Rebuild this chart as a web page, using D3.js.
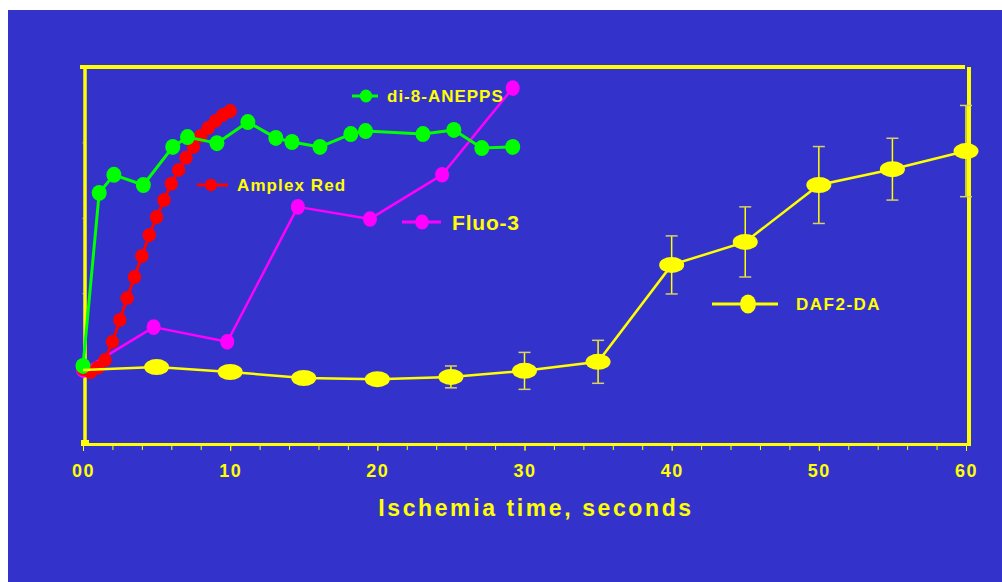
<!DOCTYPE html>
<html>
<head>
<meta charset="utf-8">
<script src="https://cdn.jsdelivr.net/npm/d3@7"></script>
<style>
  html, body { margin: 0; padding: 0; background: #ffffff; }
  svg { display: block; }
  text { font-family: "Liberation Sans", Arial, Helvetica, sans-serif; font-weight: bold; fill: #ffff00; }
</style>
</head>
<body>
<svg id="chart" width="1002" height="582"></svg>
<script>
// ---------------- DATA ----------------
const xTickValues = [0, 10, 20, 30, 40, 50, 60];
const xTickLabels = ["00", "10", "20", "30", "40", "50", "60"];
const xMinorTicks = [0, 2, 4, 6, 8, 10, 12, 14, 16, 18, 20, 22, 24, 26, 28, 30, 32, 34, 36, 38, 40, 42, 44, 46, 48, 50, 52, 54, 56, 58, 60];
const yTickValues = [20, 40, 60, 80];
const xTitle = "Ischemia time, seconds";

// di-8-ANEPPS (green)
const anepTime  = [0, 1.1, 2.1, 4.1, 6.1, 7.1, 9.1, 11.2, 13.1, 14.2, 16.1, 18.2, 19.2, 23.1, 25.2, 27.1, 29.2];
const anepValue = [20.7, 66.6, 71.4, 68.7, 78.8, 81.4, 79.8, 85.4, 81.2, 80.1, 78.8, 82.2, 83.0, 82.2, 83.3, 78.5, 78.8];

// Amplex Red (red)
const ampTime  = [0, 0.5, 1, 1.5, 2, 2.5, 3, 3.5, 4, 4.5, 5, 5.5, 6, 6.5, 7, 7.5, 8, 8.5, 9, 9.5, 10];
const ampValue = [19.9, 19.1, 20.2, 22.3, 27.1, 32.9, 38.7, 44.3, 49.9, 55.4, 60.2, 64.7, 69.0, 72.7, 75.9, 78.8, 81.7, 83.8, 85.7, 87.3, 88.3];

// Fluo-3 (magenta)
const fluoTime  = [0, 4.8, 9.8, 14.6, 19.5, 24.4, 29.2];
const fluoValue = [19.6, 31.0, 27.1, 62.9, 59.7, 71.4, 94.4];

// DAF2-DA (yellow) with error bars
const dafTime  = [0, 5, 10, 15, 20, 25, 30, 35, 40, 45, 50, 55, 60];
const dafValue = [19.6, 20.4, 19.1, 17.5, 17.2, 17.8, 19.4, 21.8, 47.5, 53.6, 68.7, 72.9, 77.7];
const dafError = [1.5, 1.5, 1.5, 1.5, 1.5, 2.9, 4.9, 5.7, 7.7, 9.3, 10.2, 8.2, 12.1];

const seriesNames = ["di-8-ANEPPS", "Amplex Red", "Fluo-3", "DAF2-DA"];

// ---------------- CHART ----------------
const svg = d3.select("#chart");
const W = 1002, H = 582;

// background panel
svg.append("rect").attr("x", 8).attr("y", 10).attr("width", W - 8).attr("height", H - 10).attr("fill", "#3333cc");

const x = d3.scaleLinear().domain([0, 60]).range([83, 966]);
const y = d3.scaleLinear().domain([0, 100]).range([444, 67]);

const YEL = "#ffff00", GRN = "#00ff00", RED = "#ff0000", MAG = "#ff00ff";

// frame
const frame = svg.append("g");
frame.append("line").attr("x1", x(0) - 3).attr("x2", x(60) - 1).attr("y1", y(100)).attr("y2", y(100))
  .attr("stroke", YEL).attr("stroke-width", 4);
frame.append("line").attr("x1", x(0) + 2).attr("x2", x(0) + 2).attr("y1", y(100)).attr("y2", y(0) + 1)
  .attr("stroke", YEL).attr("stroke-width", 3.5);
frame.append("line").attr("x1", x(60) + 3).attr("x2", x(60) + 3).attr("y1", y(100)).attr("y2", y(0) + 2)
  .attr("stroke", YEL).attr("stroke-width", 4);
frame.append("line").attr("x1", x(0) - 1).attr("x2", x(60) + 5).attr("y1", y(0) + 0.5).attr("y2", y(0) + 0.5)
  .attr("stroke", YEL).attr("stroke-width", 3);
frame.append("rect").attr("x", x(0) - 2).attr("y", y(0) - 4).attr("width", 8).attr("height", 6).attr("fill", YEL);

// minor x ticks
const minorAxis = d3.axisBottom(x).tickValues(xMinorTicks).tickSize(4).tickFormat("");
const gMinor = svg.append("g").attr("transform", `translate(0,${y(0) + 2})`).call(minorAxis);
gMinor.select(".domain").remove();
gMinor.selectAll(".tick line").attr("stroke", YEL).attr("stroke-width", 1);

// major x ticks + labels
const majorAxis = d3.axisBottom(x).tickValues(xTickValues).tickSize(5).tickPadding(13)
  .tickFormat((d, i) => xTickLabels[i]);
const gMajor = svg.append("g").attr("transform", `translate(0,${y(0) + 2})`).call(majorAxis);
gMajor.select(".domain").remove();
gMajor.selectAll(".tick line").attr("stroke", YEL).attr("stroke-width", 1);
gMajor.selectAll(".tick text")
  .attr("fill", YEL).attr("font-size", 18).attr("font-weight", "bold")
  .attr("font-family", "'Liberation Sans', Arial, sans-serif")
  .style("letter-spacing", "1.5px");

// faint y ticks
const yAxis = d3.axisLeft(y).tickValues(yTickValues).tickSize(2).tickFormat("");
const gY = svg.append("g").attr("transform", `translate(${x(0) + 1},0)`).call(yAxis);
gY.select(".domain").remove();
gY.selectAll(".tick line").attr("stroke", YEL).attr("stroke-opacity", 0.4);

// axis title
svg.append("text").attr("x", 536).attr("y", 516).attr("text-anchor", "middle")
  .attr("font-size", 23).style("letter-spacing", "2.6px").text(xTitle);

// helpers
const lineGen = d3.line().x(d => x(d.t)).y(d => y(d.v));
function zipSeries(ts, vs) { return ts.map((t, i) => ({ t, v: vs[i] })); }

function drawSeries(data, color, lw, rx, ry) {
  const g = svg.append("g");
  g.append("path").datum(data).attr("d", lineGen).attr("fill", "none")
    .attr("stroke", color).attr("stroke-width", lw).attr("stroke-linejoin", "round");
  g.selectAll("ellipse").data(data).join("ellipse")
    .attr("cx", d => x(d.t)).attr("cy", d => y(d.v)).attr("rx", rx).attr("ry", ry).attr("fill", color);
  return g;
}

drawSeries(zipSeries(fluoTime, fluoValue), MAG, 2.5, 7, 7.8);
drawSeries(zipSeries(ampTime, ampValue), RED, 3, 6.7, 7);
drawSeries(zipSeries(anepTime, anepValue), GRN, 3, 7.5, 8);

// DAF2-DA with error bars (start point shares the origin cluster; its marker is hidden there)
const dafData = dafTime.map((t, i) => ({ t, v: dafValue[i], e: dafError[i] }));
const gDaf = svg.append("g");
const eb = gDaf.selectAll("g.eb").data(dafData.filter(d => d.t > 0)).join("g").attr("class", "eb");
eb.append("line").attr("x1", d => x(d.t)).attr("x2", d => x(d.t))
  .attr("y1", d => y(d.v + d.e)).attr("y2", d => y(d.v - d.e))
  .attr("stroke", YEL).attr("stroke-width", 1.5);
eb.append("line").attr("x1", d => x(d.t) - 6).attr("x2", d => x(d.t) + 6)
  .attr("y1", d => y(d.v + d.e)).attr("y2", d => y(d.v + d.e))
  .attr("stroke", "#d8d060").attr("stroke-width", 1.5);
eb.append("line").attr("x1", d => x(d.t) - 6).attr("x2", d => x(d.t) + 6)
  .attr("y1", d => y(d.v - d.e)).attr("y2", d => y(d.v - d.e))
  .attr("stroke", "#d8d060").attr("stroke-width", 1.5);
gDaf.append("path").datum(dafData).attr("d", lineGen).attr("fill", "none")
  .attr("stroke", YEL).attr("stroke-width", 2.5);
gDaf.selectAll("ellipse").data(dafData.filter(d => d.t > 0)).join("ellipse")
  .attr("cx", d => x(d.t)).attr("cy", d => y(d.v)).attr("rx", 12.5).attr("ry", 8).attr("fill", YEL);

// legends (inline labels)
function legend(x1, x2, ly, mx, rx, ry, color, label, tx, fs, ls) {
  const g = svg.append("g");
  g.append("line").attr("x1", x1).attr("x2", x2).attr("y1", ly).attr("y2", ly)
    .attr("stroke", color).attr("stroke-width", 3);
  g.append("ellipse").attr("cx", mx).attr("cy", ly).attr("rx", rx).attr("ry", ry).attr("fill", color);
  g.append("text").attr("x", tx).attr("y", ly + fs * 0.36).attr("font-size", fs)
    .style("letter-spacing", ls + "px").text(label);
}
legend(352, 378, 96, 366, 6.2, 6.5, GRN, seriesNames[0], 387, 17, 1);
legend(197, 228, 185, 211, 6, 6.2, RED, seriesNames[1], 237, 17, 1.1);
legend(402, 441, 222, 422, 6.8, 7.6, MAG, seriesNames[2], 452, 21, 0.8);
legend(712, 778, 304, 748, 8, 9.5, YEL, seriesNames[3], 796, 17, 1.5);
</script>
</body>
</html>
